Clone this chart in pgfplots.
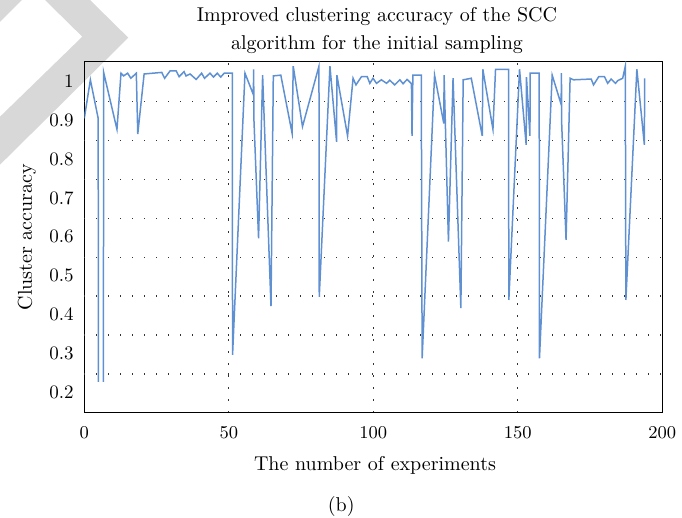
\documentclass[border=0pt]{standalone}
\usepackage{pgfplots}
\pgfplotsset{compat=1.18}
\definecolor{lineblue}{RGB}{95,145,210}
\definecolor{wm}{RGB}{216,216,216}
\begin{document}
\begin{tikzpicture}
% watermark shapes (decoration)
\fill[wm] (-19.65pt,206.35pt) -- (2.85pt,206.35pt) -- (22pt,187.5pt) -- (-42.15pt,124pt) -- (-42.15pt,148pt) -- (-1pt,188pt) -- cycle;
\fill[wm] (-42.15pt,206.35pt) -- (-31.15pt,206.35pt) -- (-42.15pt,195.35pt) -- cycle;
\begin{axis}[
  at={(0,0)}, anchor=south west,
  scale only axis, width=289pt, height=175.5pt,
  xmin=0, xmax=200, ymin=0.1487, ymax=1.0495,
  xtick={0,50,100,150,200},
  ytick={0.2,0.3,0.4,0.5,0.6,0.7,0.8,0.9,1},
  yticklabels={0.2,0.3,0.4,0.5,0.6,0.7,0.8,0.9,1},
  extra y ticks={0.248,0.348,0.448,0.548,0.648,0.748,0.848,0.948},
  extra y tick labels={},
  extra y tick style={grid=major},
  xmajorgrids,
  major tick length=0pt,
  grid style={black!80, line width=0.6pt, dash pattern=on 0.6pt off 5.4pt},
  axis line style={black, line width=0.6pt},
  tick label style={font=\fontsize{9.5}{11}\selectfont},
  xticklabel style={yshift=-3.5pt},
  yticklabel style={xshift=-1.8pt},
  unbounded coords=jump,
]
\addplot[lineblue, line width=0.75pt, mark=none] coordinates {
(0,0.904) (2.1,1.003) (4.8,0.904) (4.9,0.228) (5.7,nan) (6.6,0.228) (6.7,1.022)
(11.3,0.876) (12.7,1.02) (13.6,1.013) (15.0,1.02) (16.1,1.007) (18.0,1.02)
(18.5,0.864) (20.7,1.018) (26.8,1.022) (27.8,1.007) (29.7,1.026) (31.8,1.026)
(32.8,1.011) (34.5,1.024) (35.2,1.013) (36.6,1.018) (38.7,1.004) (40.6,1.02)
(41.6,1.007) (43.5,1.02) (44.7,1.01) (46.0,1.02) (47.2,1.01) (48.4,1.02)
(51.2,1.02) (51.3,0.297) (55.6,1.02) (58.5,0.965) (58.6,1.03) (58.7,0.90)
(60.3,0.596) (61.7,1.015) (64.6,0.422) (65.4,1.013) (68.0,1.015) (71.9,0.866)
(72.3,1.038) (75.5,0.883) (81.2,1.038) (81.3,0.446) (85.0,1.038) (87.3,0.844)
(87.4,1.015) (91.1,0.859) (93.0,1.007) (94.0,0.99) (95.9,1.011) (97.9,1.011)
(98.8,0.994) (99.9,1.007) (101.1,0.994) (102.8,1.003) (104.6,0.994) (105.7,1.002)
(107.4,0.99) (109.2,1.003) (110.3,0.993) (111.7,1.004) (113.2,0.993) (113.4,0.859)
(113.7,1.015) (116.6,1.015) (116.9,0.288) (121.2,1.015) (124.4,0.891) (124.5,1.015)
(126.0,0.588) (127.6,1.007) (130.3,0.417) (131.1,1.003) (133.9,1.007) (137.7,0.859)
(137.9,1.03) (141.4,0.876) (142.3,1.03) (146.8,1.03) (146.9,0.438) (150.6,1.03)
(152.9,0.836) (153.0,1.01) (154.2,0.859) (154.3,1.02) (157.4,1.02) (157.5,0.288)
(161.9,1.015) (165.0,0.94) (165.1,1.02) (165.2,0.889) (166.7,0.592) (168.1,1.007)
(169.3,1.003) (175.4,1.005) (176.2,0.99) (178.0,1.011) (180.0,1.011) (181.1,0.994)
(182.3,1.005) (183.8,0.994) (184.6,1.001) (186.3,1.007) (187.2,1.038) (187.4,0.438)
(191.2,1.03) (193.8,0.836) (193.9,1.007)
};
\end{axis}
\node[anchor=base, font=\fontsize{10}{12}\selectfont] at (146.35pt,195.6pt) {Improved clustering accuracy of the SCC};
\node[anchor=base, font=\fontsize{10}{12}\selectfont] at (146.35pt,181.6pt) {algorithm for the initial sampling};
\node[anchor=base, font=\fontsize{10}{12}\selectfont] at (145.35pt,-29.15pt) {The number of experiments};
\node[anchor=base, font=\fontsize{10}{12}\selectfont] at (128.5pt,-49.4pt) {(b)};
\node[rotate=90, anchor=center, font=\fontsize{10}{12}\selectfont] at (-28.65pt,87.85pt) {Cluster accuracy};
\pgfresetboundingbox
\path[use as bounding box] (-42.15pt,-52.65pt) rectangle (298.85pt,206.35pt);
\end{tikzpicture}
\end{document}
